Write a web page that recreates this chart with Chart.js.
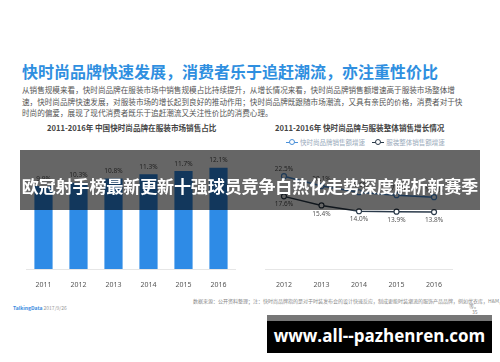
<!DOCTYPE html>
<html>
<head>
<meta charset="utf-8">
<script src="https://cdn.jsdelivr.net/npm/chart.js@4"></script>
<style>
  html, body { margin: 0; padding: 0; background: #fff; }
  body { width: 500px; height: 362px; position: relative; overflow: hidden;
         font-family: "Noto Sans CJK SC", "Noto Sans", sans-serif; }
  .abs { position: absolute; white-space: nowrap; }
  #title { left: 22px; top: 59px; font-size: 16px; font-weight: bold; color: #2f8fe0; }
  .para { left: 22px; font-size: 7.6px; color: #555; line-height: 10px; }
  .ctitle { font-size: 7.6px; color: #444; font-weight: bold; top: 122px; }
  #legend { left: 286px; top: 137px; font-size: 6.5px; color: #9ab; }
  #legend span.sym { display: inline-block; width: 12px; height: 0; border-top: 1.5px solid; position: relative; top: -2px; margin-right: 2px; }
  #legend span.sym:after { content: ""; position: absolute; left: 3px; top: -4px; width: 4px; height: 4px; border: 1px solid; border-color: inherit; border-radius: 50%; background: #fff; }
  #barWrap { left: 26px; top: 140px; width: 210px; height: 150px; }
  #lineWrap { left: 260px; top: 140px; width: 198px; height: 150px; }
  #banner { left: 20px; top: 150px; width: 460px; height: 60px; background: rgba(0,0,0,0.6); }
  #bannerText { left: 20px; top: 173px; width: 460px; text-align: center; font-size: 17px; font-weight: bold; color: #fff; letter-spacing: -0.1px; }
  .foot { font-size: 5px; color: #888; }
  #mark { left: 267px; top: 315px; width: 225px; height: 38px; background: #000; border-top: 6px solid #777; box-sizing: border-box; }
  #markText { left: 267px; top: 324px; width: 225px; text-align: center; font-family: "Open Sans", sans-serif; font-size: 17px; font-weight: bold; color: #fff; }
</style>
</head>
<body>
<div class="abs" id="title">快时尚品牌快速发展，消费者乐于追赶潮流，亦注重性价比</div>
<div class="abs para" style="top:85px">从销售规模来看，快时尚品牌在服装市场中销售规模占比持续提升，从增长情况来看，快时尚品牌销售额增速高于服装市场整体增</div>
<div class="abs para" style="top:97px">速，快时尚品牌快速发展，对服装市场的增长起到良好的推动作用；快时尚品牌既跟随市场潮流，又具有亲民的价格，消费者对于快</div>
<div class="abs para" style="top:108px">时尚的偏爱，展现了现代消费者既乐于追赶潮流又关注性价比的消费心理。</div>
<div class="abs ctitle" style="left:47px">2011-2016年 中国快时尚品牌在服装市场销售占比</div>
<div class="abs ctitle" style="left:275px">2011-2016年 快时尚品牌与服装整体销售增长情况</div>
<div class="abs" id="legend"><span class="sym" style="border-color:#4a90d9"></span>快时尚品牌销售额增速&nbsp;&nbsp;&nbsp;&nbsp;&nbsp;<span class="sym" style="border-color:#2b3a4a"></span>服装整体销售额增速</div>

<div class="abs" id="barWrap"><canvas id="barChart" width="210" height="150"></canvas></div>
<div class="abs" id="lineWrap"><canvas id="lineChart" width="198" height="150"></canvas></div>

<div class="abs foot" style="left:13px;top:304px;color:#3b8be0;font-weight:bold">TalkingData <span style="color:#999;font-weight:normal">2017/9/26</span></div>
<div class="abs foot" style="left:193px;top:297px">数据来源：公开资料整理；注：快时尚品牌指的是对于时装发布会的设计快速反应，制成更能时装潮流的服饰产品品牌，例如优衣库，H&amp;M，Zara</div>
<div class="abs foot" style="left:469px;top:302px">等。</div>
<div class="abs foot" style="left:472px;top:308px">35</div>

<div class="abs" id="banner"></div>
<div class="abs" id="bannerText">欧冠射手榜最新更新十强球员竞争白热化走势深度解析新赛季</div>
<div class="abs" id="mark"></div>
<div class="abs" id="markText">www.all--pazhenren.com</div>

<script>
// bar chart: share of fast fashion in apparel market (%)
const barYears = ['2011', '2012', '2013', '2014', '2015', '2016'];
const shareValues = [9.9, 10.3, 10.8, 11.3, 11.7, 12.1];

// line chart: growth rates (%)
const lineYears = ['2012', '2013', '2014', '2015', '2016'];
const fastFashionGrowth = [22.5, 20.1, 18.6, 17.9, 17.4];
const apparelGrowth = [17.6, 15.4, 14.0, 13.9, 13.8];

// draws value labels over each point / bar
const valueLabels = {
  id: 'valueLabels',
  afterDatasetsDraw(chart) {
    const ctx = chart.ctx;
    ctx.save();
    ctx.font = '6.5px "Noto Sans", sans-serif';
    ctx.fillStyle = '#555';
    ctx.textAlign = 'center';
    chart.data.datasets.forEach((ds, i) => {
      const meta = chart.getDatasetMeta(i);
      const below = ds.labelBelow;
      meta.data.forEach((el, j) => {
        const txt = ds.data[j].toFixed(1) + '%';
        ctx.textBaseline = below ? 'top' : 'bottom';
        ctx.fillText(txt, el.x, below ? el.y + 5 : el.y - 4);
      });
    });
    ctx.restore();
  }
};

function fixHeight(axis) { axis.height = 21; }

const tickFont = { size: 7, family: '"Noto Sans", sans-serif' };

new Chart(document.getElementById('barChart'), {
  type: 'bar',
  data: {
    labels: barYears,
    datasets: [{
      data: shareValues,
      backgroundColor: '#2e8be6',
      categoryPercentage: 1,
      barPercentage: 0.52
    }]
  },
  options: {
    responsive: false,
    maintainAspectRatio: false,
    animation: false,
    layout: { padding: 0 },
    plugins: { legend: { display: false }, tooltip: { enabled: false } },
    scales: {
      x: {
        grid: { display: false },
        border: { color: '#e6e6e6' },
        ticks: { color: '#555', font: tickFont, padding: 4 },
        afterFit: fixHeight
      },
      y: { display: false, min: 0, max: 15.4 }
    }
  },
  plugins: [valueLabels]
});

new Chart(document.getElementById('lineChart'), {
  type: 'line',
  data: {
    labels: lineYears,
    datasets: [{
      data: fastFashionGrowth,
      borderColor: '#4a90d9',
      borderWidth: 1.5,
      pointRadius: 2.5,
      pointBackgroundColor: '#fff',
      pointBorderColor: '#4a90d9',
      pointBorderWidth: 1.2,
      labelBelow: false
    }, {
      data: apparelGrowth,
      borderColor: '#2b3a4a',
      borderWidth: 1.5,
      pointRadius: 2.5,
      pointBackgroundColor: '#fff',
      pointBorderColor: '#2b3a4a',
      pointBorderWidth: 1.2,
      labelBelow: true
    }]
  },
  options: {
    responsive: false,
    maintainAspectRatio: false,
    animation: false,
    layout: { padding: 0 },
    plugins: { legend: { display: false }, tooltip: { enabled: false } },
    scales: {
      x: {
        offset: true,
        grid: { display: false },
        border: { color: '#e6e6e6' },
        ticks: { color: '#555', font: tickFont, padding: 4 },
        afterFit: fixHeight
      },
      y: { display: false, min: 0, max: 30 }
    }
  },
  plugins: [valueLabels]
});
</script>
</body>
</html>
